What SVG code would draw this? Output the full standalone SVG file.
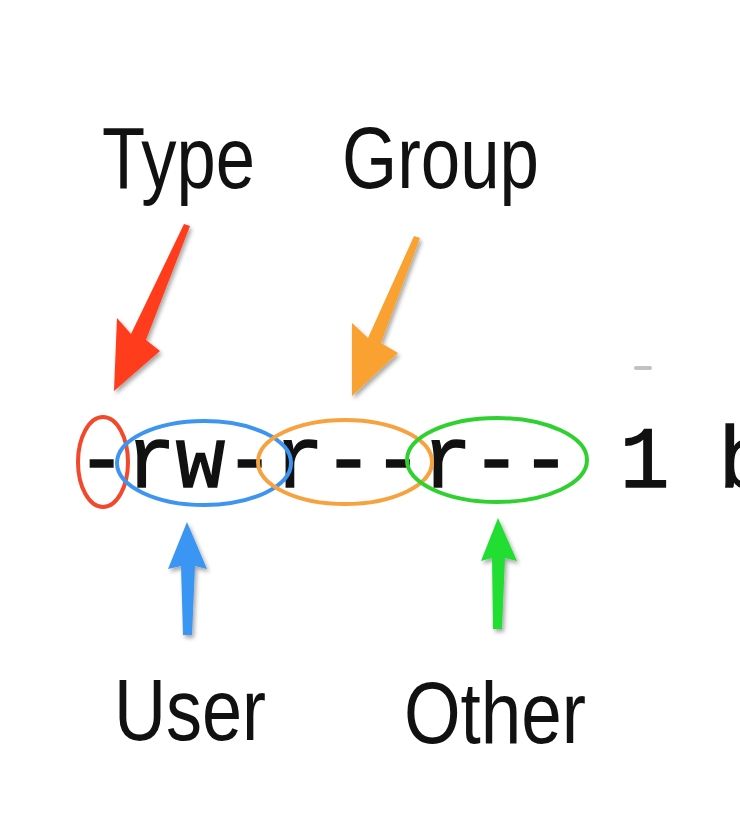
<svg xmlns="http://www.w3.org/2000/svg" width="740" height="834" viewBox="0 0 740 834">
  <defs>
    <filter id="shadow" x="-30%" y="-30%" width="160%" height="160%">
      <feDropShadow dx="2" dy="3" stdDeviation="2" flood-color="#000" flood-opacity="0.35"/>
    </filter>
  </defs>
  <style>
    .label { font-family: "Liberation Sans", Arial, sans-serif; font-size: 88px; fill: #111; }
    .mono { font-family: "Liberation Mono", "Courier New", monospace; font-size: 88px; fill: #111; stroke: #111; stroke-width: 1.6; }
    .ring { fill: none; stroke-width: 4; }
    .arrow { filter: url(#shadow); stroke: none; }
  </style>
  <rect width="740" height="834" fill="#ffffff"/>

  <g id="permissions">
    <text class="mono" x="77" y="487" textLength="691" lengthAdjust="spacingAndGlyphs">-rw-r--r-- 1 b</text>
  </g>

  <g id="type-ring"><ellipse class="ring" cx="103" cy="462" rx="25" ry="45" stroke="#f2482c"/></g>
  <g id="user-ring"><ellipse class="ring" cx="204" cy="463" rx="87" ry="42" stroke="#3d95f0"/></g>
  <g id="group-ring"><ellipse class="ring" cx="345" cy="462" rx="87" ry="42" stroke="#f7a23f"/></g>
  <g id="other-ring"><ellipse class="ring" cx="497" cy="460" rx="90" ry="42" stroke="#2fd12f"/></g>

  <g id="type-label"><text class="label" x="102" y="188" textLength="153" lengthAdjust="spacingAndGlyphs">Type</text></g>
  <g id="group-label"><text class="label" x="342" y="188" textLength="197" lengthAdjust="spacingAndGlyphs">Group</text></g>
  <g id="user-label"><text class="label" x="114" y="740" textLength="152" lengthAdjust="spacingAndGlyphs">User</text></g>
  <g id="other-label"><text class="label" x="404" y="743" textLength="182" lengthAdjust="spacingAndGlyphs">Other</text></g>

  <g id="connectors">
    <polygon class="arrow" fill="#ff3d1c" points="184,224 190,226 146,340 160,351 114,391 117,318 131,334"/>
    <polygon class="arrow" fill="#f9a231" points="414,236 420,238 381,343 398,353 352,396 352,323 368,338"/>
    <polygon class="arrow" fill="#3a95f2" points="187,522 207,569 195,566 192,635 183,635 181,566 168,569"/>
    <polygon class="arrow" fill="#22dd33" points="498,518 517,561 505,558 502,629 493,629 492,558 481,561"/>
  </g>

  <rect x="634" y="366" width="18" height="4" rx="2" fill="#999" opacity="0.6"/>
</svg>
